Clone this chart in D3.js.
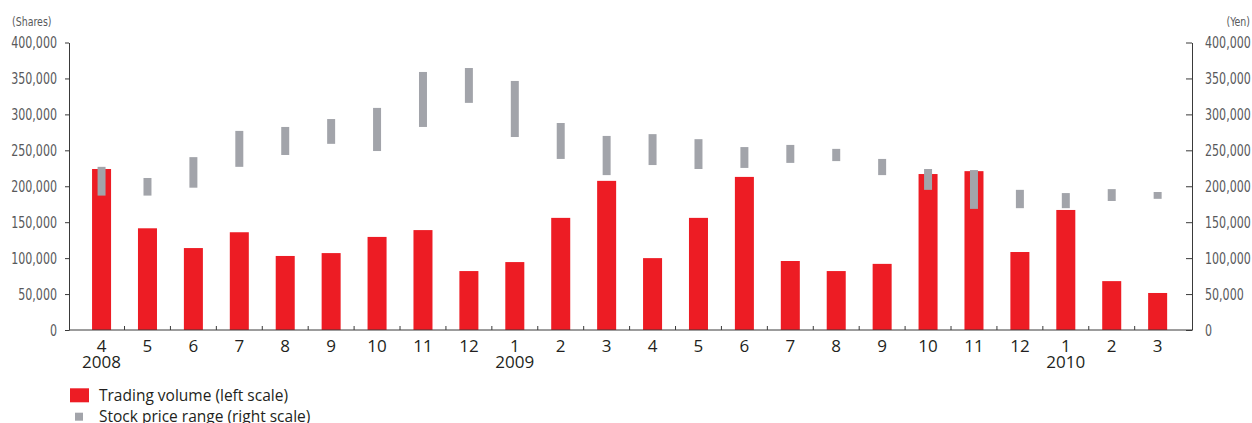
<!DOCTYPE html>
<html>
<head>
<meta charset="utf-8">
<script src="https://cdn.jsdelivr.net/npm/d3@7"></script>
<style>
  html, body { margin: 0; padding: 0; background: #fff; }
  svg { display: block; }
  .ylab text { font-family: "DejaVu Sans", sans-serif; font-stretch: condensed; font-size: 16px; fill: #58595b; }
  .xlab text, .year, .legend text { font-family: "Open Sans", "Noto Sans", sans-serif; fill: #231f20; }
  .unit { font-family: "DejaVu Sans", sans-serif; font-stretch: condensed; font-size: 12.5px; fill: #58595b; }
</style>
</head>
<body>
<svg id="chart" width="1252" height="423"></svg>
<script>
// Monthly trading volume (shares) and stock price range (yen), April 2008 – March 2010
const months = ["4","5","6","7","8","9","10","11","12","1","2","3","4","5","6","7","8","9","10","11","12","1","2","3"];
const years  = ["2008","","","","","","","","","2009","","","","","","","","","","","","2010","",""];
const volume = [224000, 141500, 114000, 136000, 103000, 107000, 129500, 139000, 82000, 94500, 156000, 207500,
                100000, 156000, 213000, 96000, 82000, 92000, 217000, 221000, 108500, 167000, 68000, 51500];
const priceHigh = [227000, 211500, 240500, 277000, 282500, 293500, 309000, 359000, 364500, 346500, 288000, 270000,
                   272500, 265500, 254500, 257500, 252000, 238000, 224000, 222500, 195000, 190500, 196000, 192000];
const priceLow  = [187000, 187000, 198000, 227000, 243500, 259000, 249000, 282500, 316000, 268500, 238000, 215500,
                   229500, 224000, 225500, 232500, 235000, 215500, 195000, 168500, 169500, 169500, 179500, 182500];
const yTicks = [0, 50000, 100000, 150000, 200000, 250000, 300000, 350000, 400000];

const RED = "#ed1c24", GREY = "#a2a4aa", AXIS = "#3a3a3a";
const svg = d3.select("#chart");

const plotLeft = 69, plotRight = 1192, plotTop = 42.5, plotBottom = 330;
const idx = d3.range(months.length);

const x = d3.scaleBand().domain(idx).range([78.6, 1180.6]).paddingInner(0.586).paddingOuter(0.293);
const y = d3.scaleLinear().domain([0, 400000]).range([plotBottom, plotTop]);      // shares
const y2 = d3.scaleLinear().domain([0, 400000]).range([plotBottom, plotTop]);     // yen
const fmt = d3.format(",");

// squeeze text horizontally about its anchor point
function condense(sel, k) {
  sel.each(function () {
    const t = d3.select(this);
    const x0 = +t.attr("x") || 0;
    t.attr("x", x0 / k).attr("transform", `scale(${k},1)`);
  });
}

// volume bars
svg.append("g").selectAll("rect").data(idx).join("rect")
  .attr("x", i => x(i)).attr("width", x.bandwidth())
  .attr("y", i => y(volume[i])).attr("height", i => y(0) - y(volume[i]))
  .attr("fill", RED);

// price range bars
const gw = x.bandwidth() * 0.42;
svg.append("g").selectAll("rect").data(idx).join("rect")
  .attr("x", i => x(i) + x.bandwidth() / 2 - gw / 2).attr("width", gw)
  .attr("y", i => y2(priceHigh[i])).attr("height", i => y2(priceLow[i]) - y2(priceHigh[i]))
  .attr("fill", GREY);

// left axis
const gl = svg.append("g").attr("class", "ylab").attr("transform", `translate(${plotLeft},0)`)
  .call(d3.axisLeft(y).tickValues(yTicks).tickFormat(fmt).tickSizeInner(4).tickSizeOuter(0).tickPadding(8));
gl.selectAll("path, line").attr("stroke", AXIS);
condense(gl.selectAll("text"), 0.77);

// right axis, ticks pointing inward
const gr = svg.append("g").attr("class", "ylab").attr("transform", `translate(${plotRight},0)`)
  .call(d3.axisRight(y2).tickValues(yTicks).tickFormat(fmt).tickSizeInner(-6).tickSizeOuter(0).tickPadding(13));
gr.selectAll("path, line").attr("stroke", AXIS);
condense(gr.selectAll("text"), 0.77);

// category axis: labels under bars, ticks between months
const gx = svg.append("g").attr("class", "xlab").attr("transform", `translate(0,${plotBottom})`)
  .call(d3.axisBottom(x).tickFormat(i => months[i]).tickSize(0).tickPadding(9.6));
gx.select(".domain").remove();
gx.selectAll("text").style("font-size", "17px");

svg.append("line").attr("x1", plotLeft).attr("x2", plotRight).attr("y1", plotBottom).attr("y2", plotBottom)
  .attr("stroke", AXIS).attr("stroke-width", 1);
const gap = (x.step() - x.bandwidth()) / 2;
svg.append("g").selectAll("line").data(idx.slice(1)).join("line")
  .attr("x1", i => x(i) - gap).attr("x2", i => x(i) - gap)
  .attr("y1", plotBottom - 4).attr("y2", plotBottom)
  .attr("stroke", AXIS);

svg.append("g").selectAll("text").data(idx.filter(i => years[i])).join("text")
  .attr("class", "year")
  .attr("x", i => x(i) + x.bandwidth() / 2).attr("y", 368.3)
  .attr("text-anchor", "middle").style("font-size", "17px")
  .text(i => years[i]);

// unit labels
const u1 = svg.append("text").attr("class", "unit").attr("x", 12).attr("y", 26).text("(Shares)");
const u2 = svg.append("text").attr("class", "unit").attr("x", 1250).attr("y", 26).attr("text-anchor", "end").text("(Yen)");
condense(u1, 0.84);
condense(u2, 0.84);

// legend
const lg = svg.append("g").attr("class", "legend");
lg.append("rect").attr("x", 70).attr("y", 388.3).attr("width", 19).attr("height", 14).attr("fill", RED);
lg.append("rect").attr("x", 75).attr("y", 412.7).attr("width", 8).attr("height", 8).attr("fill", GREY);
lg.append("text").attr("x", 99).attr("y", 401).style("font-size", "15.5px").text("Trading volume (left scale)");
lg.append("text").attr("x", 99).attr("y", 421.5).style("font-size", "15.5px").text("Stock price range (right scale)");
</script>
</body>
</html>
